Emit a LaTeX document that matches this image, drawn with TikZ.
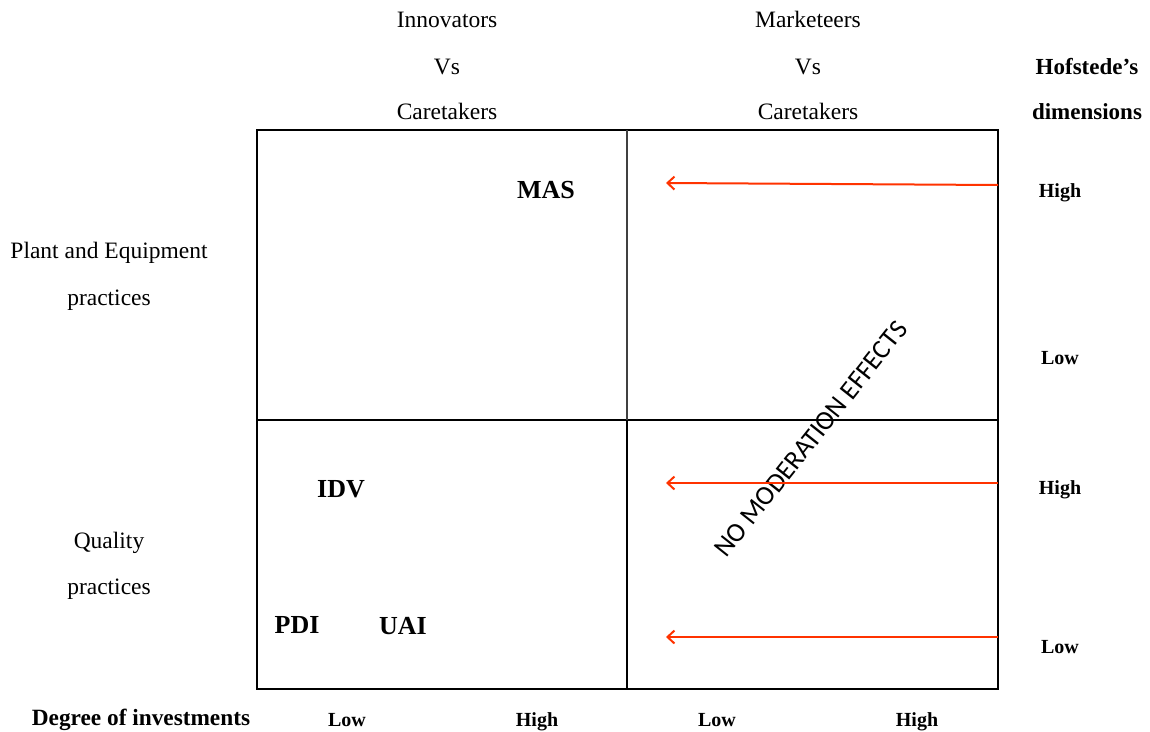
\documentclass[tikz,border=0pt]{standalone}
\usepackage{fontspec}
\setmainfont{Liberation Serif}
\newfontfamily\diagfont{Carlito}
\usetikzlibrary{arrows.meta}
\tikzset{
  lab/.style={font=\fontsize{23.5}{28}\selectfont, text height=0.7em, text depth=0.22em, inner sep=0pt},
  blab/.style={font=\fontsize{20}{24}\selectfont\bfseries, text height=0.7em, text depth=0.22em, inner sep=0pt},
  dim/.style={font=\fontsize{26}{30}\selectfont\bfseries, text height=0.7em, text depth=0.22em, inner sep=0pt},
  frame/.style={line width=2pt},
  redarrow/.style={draw={rgb,255:red,255;green,51;blue,0}, line width=2pt, -{Straight Barb[length=7pt,width=13pt,line width=2pt]}}
}
\begin{document}
\begin{tikzpicture}[x=1pt,y=-1pt]
\useasboundingbox (0,0) rectangle (1150,731);
% grid
\draw[frame] (257,130) rectangle (998,689);
\draw[frame] (257,420) -- (998,420);
\draw[line width=1.2pt, black!75] (627,130) -- (627,420);
\draw[frame] (627,420) -- (627,689);
% column headings
\node[lab] (inn) at (447,25) {Innovators};
\node[lab] (vs1) at (447,72) {Vs};
\node[lab] (car1) at (447,117) {Caretakers};
\node[lab] (mkt) at (808,25) {Marketeers};
\node[lab] (vs2) at (808,72) {Vs};
\node[lab] (car2) at (808,117) {Caretakers};
\node[blab, font=\fontsize{23}{27}\selectfont\bfseries] (hof) at (1087,72) {Hofstede's};
\node[blab, font=\fontsize{23}{27}\selectfont\bfseries] (dimn) at (1087,117) {dimensions};
% row headings
\node[lab] (pe1) at (109,256) {Plant and Equipment};
\node[lab] (pe2) at (109,303) {practices};
\node[lab] (q1) at (109,546) {Quality};
\node[lab] (q2) at (109,592) {practices};
% Hofstede levels
\node[blab] (h1) at (1060,195) {High};
\node[blab] (l1) at (1060,362) {Low};
\node[blab] (h2) at (1060,492) {High};
\node[blab] (l2) at (1060,651) {Low};
% degree of investments
\node[blab, font=\fontsize{23.3}{27}\selectfont\bfseries] (deg) at (141,723) {Degree of investments};
\foreach \x/\t/\n in {347/Low/da,537/High/db,717/Low/dc,917/High/dd}
{
\node[blab] (\n) at (\x,724) {\t};
}
% dimensions in cells
\node[dim] (mas) at (546,196) {MAS};
\node[dim] (idv) at (341,495) {IDV};
\node[dim] (pdi) at (297,631) {PDI};
\node[dim] (uai) at (403,632) {UAI};
% no moderation
\node[font=\fontsize{27}{32}\selectfont\diagfont, rotate=51.5, inner sep=0pt] (nomod) at (811,439) {NO MODERATION EFFECTS};
% arrows
\coordinate (s1) at (998,185);
\coordinate (e1) at (666,183);
\coordinate (s2) at (998,483);
\coordinate (e2) at (666,483);
\coordinate (s3) at (998,637);
\coordinate (e3) at (666,637);
\draw[redarrow] (s1) -- (e1);
\draw[redarrow] (s2) -- (e2);
\draw[redarrow] (s3) -- (e3);
\end{tikzpicture}
\end{document}
